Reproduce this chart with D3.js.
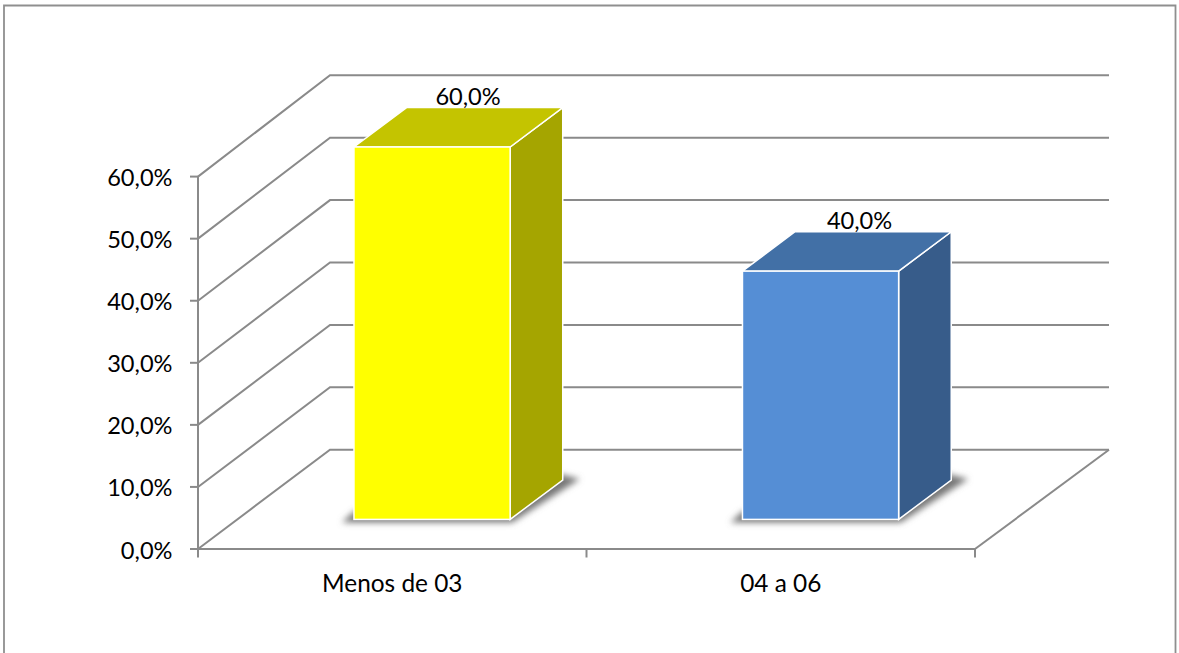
<!DOCTYPE html>
<html><head><meta charset="utf-8">
<script src="https://cdnjs.cloudflare.com/ajax/libs/d3/7.8.5/d3.min.js"></script>
<style>html,body{margin:0;padding:0;background:#fff;overflow:hidden}svg{display:block}text{font-family:Lato,"Open Sans",sans-serif;fill:#000}</style>
</head><body><svg id="c" width="1179" height="653"></svg>
<script>
const categories = ["Menos de 03", "04 a 06"];
const values = [60, 40];
const valueLabels = ["60,0%", "40,0%"];
const yTicks = [0, 10, 20, 30, 40, 50, 60];
const yTickLabels = ["0,0%", "10,0%", "20,0%", "30,0%", "40,0%", "50,0%", "60,0%"];
const frontColors = ["#FFFF00", "#558ED5"];
const topColors = ["#C4C400", "#4270A6"];
const sideColors = ["#A5A500", "#375C8A"];

const svg = d3.select("#c");
const GRID = "#8a8a8a";
const FS = 24.4, FSN = 23.6;
const x = d3.scaleBand().domain(categories).range([198, 975]);
const y = d3.scaleLinear().domain([0, 60]).range([549, 176.6]);
const yBack = d3.scaleLinear().domain([0, 60]).range([449.7, 75.3]);
const xBackL = 330, xBackR = 1109;

svg.append("defs").append("filter").attr("id", "blur")
  .attr("x", "-20%").attr("y", "-40%").attr("width", "140%").attr("height", "180%")
  .append("feGaussianBlur").attr("stdDeviation", 3);

// frame
svg.append("path").attr("d", "M4,660V5.5H1175.5V660").attr("fill", "none")
  .attr("stroke", "#8f8f8f").attr("stroke-width", 1.8);

// walls: gridlines
const grid = svg.append("g").attr("fill", "none").attr("stroke", GRID).attr("stroke-width", 2);
grid.selectAll("path").data(yTicks).join("path")
  .attr("d", v => `M198,${y(v)}L${xBackL},${yBack(v)}H${xBackR}`);
// floor right edge and axes
grid.append("path").attr("d", `M975,${y(0)}L${xBackR},${yBack(0)}`);
grid.append("path").attr("d", `M198,${y(60)}V${y(0)}H975`);
// ticks
grid.append("g").selectAll("path").data(yTicks).join("path")
  .attr("d", v => `M190,${y(v)}H198`);
const xEdges = [...categories.map(c => x(c)), 975];
grid.append("g").selectAll("path").data(xEdges).join("path")
  .attr("d", v => `M${v},${y(0)}V557.5`);

// y labels
svg.append("g").selectAll("text").data(yTicks).join("text")
  .attr("x", 172.5).attr("y", v => y(v) + 9.5).attr("text-anchor", "end")
  .attr("font-size", FSN).text((v, i) => yTickLabels[i]);
// x labels
svg.append("g").selectAll("text").data(categories).join("text")
  .attr("x", c => x(c) + x.bandwidth() / 2).attr("y", 592).attr("text-anchor", "middle")
  .attr("font-size", FS).text(c => c);

// bars
const barW = x.bandwidth() * 0.402;
const bx = 39.8, by = -29.6, sx = 52.6, sy = -39.4;
const labelShift = [36, 39];
const bars = svg.append("g").selectAll("g").data(categories).join("g");
bars.each(function (c, i) {
  const g = d3.select(this);
  const l = x(c) + x.bandwidth() / 2 - barW / 2 + bx;
  const r = l + barW;
  const b = y(0) + by;
  const t = y(values[i]) + by;
  g.append("polygon").attr("filter", "url(#blur)").attr("fill", "#777")
    .attr("points", [[l - 12, b + 3], [r + 2, b + 3], [r + sx + 17, b + sy - 1], [r + sx - 4, b + sy - 6], [l, b - 8]].join(" "));
  g.append("polygon").attr("fill", sideColors[i]).attr("stroke", "#fff").attr("stroke-width", 1.5)
    .attr("points", [[r, t], [r + sx, t + sy], [r + sx, b + sy], [r, b]].join(" "));
  g.append("polygon").attr("fill", topColors[i]).attr("stroke", "#fff").attr("stroke-width", 1.5)
    .attr("points", [[l, t], [l + sx, t + sy], [r + sx, t + sy], [r, t]].join(" "));
  g.append("rect").attr("x", l).attr("y", t).attr("width", barW).attr("height", b - t)
    .attr("fill", frontColors[i]).attr("stroke", "#fff").attr("stroke-width", 1.5);
  g.append("text").attr("x", l + barW / 2 + labelShift[i]).attr("y", t + sy - 3)
    .attr("text-anchor", "middle").attr("font-size", FSN).text(valueLabels[i]);
});
</script></body></html>
